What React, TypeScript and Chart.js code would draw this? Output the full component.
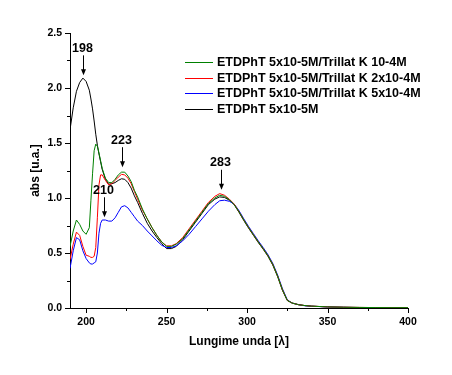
import React, { useEffect, useRef } from "react";
import { Chart, registerables } from "chart.js";

Chart.register(...registerables);

// ---- data ----
const wavelengths = [
  190, 192, 194, 196, 198, 200, 202, 203, 204, 205,
  206, 207, 208, 209, 210, 212, 214, 216, 218, 220,
  222, 224, 226, 228, 230, 232, 235, 238, 241, 244,
  247, 250, 253, 256, 260, 264, 268, 272, 276, 280,
  283, 286, 289, 292, 295, 298, 301, 304, 307, 310,
  313, 316, 319, 322, 325, 328, 332, 336, 340, 350,
  360, 370, 380, 390, 400,
];

const seriesLabels = [
  "ETDPhT 5x10-5M/Trillat K 10-4M",
  "ETDPhT 5x10-5M/Trillat K 2x10-4M",
  "ETDPhT 5x10-5M/Trillat K 5x10-4M",
  "ETDPhT 5x10-5M",
];

const trillat1e4 = [
  0.56, 0.70, 0.80, 0.76, 0.70, 0.67, 0.73, 0.98, 1.22, 1.43,
  1.49, 1.47, 1.41, 1.34, 1.27, 1.18, 1.14, 1.14, 1.17, 1.21,
  1.235, 1.235, 1.20, 1.15, 1.07, 1.01, 0.90, 0.81, 0.73, 0.66,
  0.60, 0.56, 0.56, 0.58, 0.63, 0.71, 0.79, 0.87, 0.95, 1.00,
  1.025, 1.015, 0.985, 0.94, 0.875, 0.80, 0.73, 0.665, 0.60, 0.54,
  0.475, 0.395, 0.29, 0.165, 0.07, 0.045, 0.03, 0.022, 0.017, 0.01,
  0.007, 0.005, 0.004, 0.003, 0.003,
];

const trillat2e4 = [
  0.44, 0.58, 0.69, 0.66, 0.56, 0.48, 0.47, 0.46, 0.46, 0.47,
  0.55, 0.82, 1.12, 1.21, 1.21, 1.16, 1.12, 1.13, 1.16, 1.19,
  1.215, 1.21, 1.18, 1.13, 1.06, 0.99, 0.89, 0.81, 0.73, 0.66,
  0.60, 0.565, 0.565, 0.585, 0.64, 0.72, 0.80, 0.88, 0.96, 1.015,
  1.04, 1.025, 0.99, 0.945, 0.875, 0.80, 0.73, 0.665, 0.60, 0.54,
  0.475, 0.395, 0.29, 0.165, 0.07, 0.045, 0.03, 0.022, 0.017, 0.01,
  0.007, 0.005, 0.004, 0.003, 0.003,
];

const trillat5e4 = [
  0.36, 0.52, 0.64, 0.62, 0.52, 0.45, 0.41, 0.40, 0.40, 0.41,
  0.42, 0.50, 0.68, 0.77, 0.80, 0.80, 0.79, 0.79, 0.82, 0.87,
  0.92, 0.93, 0.91, 0.87, 0.83, 0.79, 0.75, 0.70, 0.655, 0.61,
  0.57, 0.55, 0.55, 0.565, 0.61, 0.67, 0.74, 0.81, 0.88, 0.94,
  0.975, 0.98, 0.97, 0.945, 0.885, 0.81, 0.74, 0.675, 0.61, 0.55,
  0.485, 0.405, 0.30, 0.175, 0.075, 0.045, 0.03, 0.02, 0.016, 0.01,
  0.006, 0.004, 0.003, 0.003, 0.003,
];

const etdphtOnly = [
  1.62, 1.82, 1.97, 2.05, 2.09, 2.06, 1.98, 1.90, 1.81, 1.70,
  1.58, 1.48, 1.40, 1.33, 1.26, 1.17, 1.125, 1.13, 1.14, 1.16,
  1.175, 1.17, 1.14, 1.09, 1.02, 0.96, 0.86, 0.77, 0.70, 0.64,
  0.585, 0.54, 0.54, 0.56, 0.62, 0.70, 0.78, 0.86, 0.94, 0.99,
  1.01, 1.005, 0.98, 0.94, 0.87, 0.795, 0.725, 0.66, 0.595, 0.535,
  0.47, 0.39, 0.285, 0.16, 0.068, 0.045, 0.03, 0.022, 0.017, 0.01,
  0.007, 0.005, 0.004, 0.003, 0.003,
];

const seriesColors = ["#008000", "#ff0000", "#0000ff", "#000000"];

const xTicks = [200, 250, 300, 350, 400];
const xMinorTicks = [225, 275, 325, 375];
const yTicks = [0, 0.5, 1.0, 1.5, 2.0, 2.5];
const yMinorTicks = [0.25, 0.75, 1.25, 1.75, 2.25];

const peakLabels = ["198", "223", "210", "283"];
const peakWavelengths = [198, 222.5, 211, 284];
const peakValues = [2.115, 1.28, 0.825, 1.075];

const FONT = '"Liberation Sans", Arial, sans-serif';

const decorPlugin = {
  id: "decor",
  afterDraw(chart: any) {
    const { ctx, chartArea } = chart;
    const xs = chart.scales.x;
    const ys = chart.scales.y;
    ctx.save();
    ctx.strokeStyle = "#000";
    ctx.lineWidth = 1;
    // y ticks (outward, left)
    const drawY = (v: number, len: number) => {
      const py = Math.round(ys.getPixelForValue(v)) + 0.5;
      ctx.beginPath();
      ctx.moveTo(chartArea.left - len, py);
      ctx.lineTo(chartArea.left, py);
      ctx.stroke();
    };
    yTicks.forEach((v) => drawY(v, 5));
    yMinorTicks.forEach((v) => drawY(v, 3));
    const drawX = (v: number, len: number) => {
      const px = Math.round(xs.getPixelForValue(v)) + 0.5;
      ctx.beginPath();
      ctx.moveTo(px, chartArea.bottom);
      ctx.lineTo(px, chartArea.bottom + len);
      ctx.stroke();
    };
    xTicks.forEach((v) => drawX(v, 5));
    xMinorTicks.forEach((v) => drawX(v, 3));

    // peak annotations
    ctx.fillStyle = "#000";
    ctx.font = `bold 12.5px ${FONT}`;
    ctx.textAlign = "center";
    ctx.textBaseline = "middle";
    peakLabels.forEach((lab, i) => {
      const px = Math.round(xs.getPixelForValue(peakWavelengths[i])) + 0.5;
      const py = ys.getPixelForValue(peakValues[i]);
      ctx.fillText(lab, px - 1, py - 27);
      ctx.beginPath();
      ctx.moveTo(px, py - 20);
      ctx.lineTo(px, py - 4);
      ctx.stroke();
      ctx.beginPath();
      ctx.moveTo(px - 2.5, py - 6);
      ctx.lineTo(px + 2.5, py - 6);
      ctx.lineTo(px, py);
      ctx.closePath();
      ctx.fill();
    });

    // legend
    ctx.textAlign = "left";
    ctx.textBaseline = "middle";
    ctx.font = `bold 12.5px ${FONT}`;
    chart.data.datasets.forEach((ds: any, i: number) => {
      const ly = Math.round(62 + i * 15.7) + 0.5;
      ctx.strokeStyle = ds.borderColor;
      ctx.beginPath();
      ctx.moveTo(185, ly);
      ctx.lineTo(213, ly);
      ctx.stroke();
      ctx.fillStyle = "#000";
      ctx.fillText(ds.label, 217, ly);
    });
    ctx.restore();
  },
};

export default function App() {
  const ref = useRef<HTMLCanvasElement | null>(null);

  useEffect(() => {
    if (!ref.current) return;
    const seriesValues = [trillat1e4, trillat2e4, trillat5e4, etdphtOnly];
    const chart = new Chart(ref.current, {
      type: "line",
      data: {
        datasets: seriesValues.map((vals, i) => ({
          label: seriesLabels[i],
          data: wavelengths.map((w, j) => ({ x: w, y: vals[j] })),
          borderColor: seriesColors[i],
          backgroundColor: seriesColors[i],
          borderWidth: 1,
          pointRadius: 0,
          tension: 0,
          fill: false,
        })),
      },
      options: {
        responsive: false,
        animation: false,
        devicePixelRatio: 1,
        layout: { padding: { left: 0, top: 33, right: 44, bottom: 0 } },
        plugins: {
          legend: { display: false },
          tooltip: { enabled: false },
        },
        scales: {
          x: {
            type: "linear",
            min: 190,
            max: 400,
            afterBuildTicks: (scale: any) => {
              scale.ticks = xTicks.map((v) => ({ value: v }));
            },
            afterFit: (scale: any) => {
              scale.height = 67;
            },
            grid: { display: false, drawTicks: true, tickLength: 5 },
            border: { display: true, color: "#000", width: 1 },
            ticks: {
              color: "#000",
              padding: 3,
              maxRotation: 0,
              font: { family: FONT, size: 10.5, weight: "bold" },
            },
            title: {
              display: true,
              text: "Lungime unda [λ]",
              color: "#000",
              font: { family: FONT, size: 12, weight: "bold" },
              padding: { top: 0, bottom: 26 },
            },
          },
          y: {
            type: "linear",
            min: 0,
            max: 2.5,
            afterBuildTicks: (scale: any) => {
              scale.ticks = yTicks.map((v) => ({ value: v }));
            },
            afterFit: (scale: any) => {
              scale.width = 70;
            },
            grid: { display: false, drawTicks: true, tickLength: 5 },
            border: { display: true, color: "#000", width: 1 },
            ticks: {
              color: "#000",
              padding: 3,
              font: { family: FONT, size: 10.5, weight: "bold" },
              callback: (v: any) => Number(v).toFixed(1),
            },
            title: {
              display: true,
              text: "abs [u.a.]",
              color: "#000",
              font: { family: FONT, size: 12, weight: "bold" },
              padding: { top: 28, bottom: 0 },
            },
          },
        },
      },
      plugins: [decorPlugin],
    } as any);
    return () => chart.destroy();
  }, []);

  return (
    <div style={{ position: "absolute", left: 0, top: 0, width: 452, height: 375, background: "#fff" }}>
      <canvas ref={ref} width={452} height={375} />
    </div>
  );
}
